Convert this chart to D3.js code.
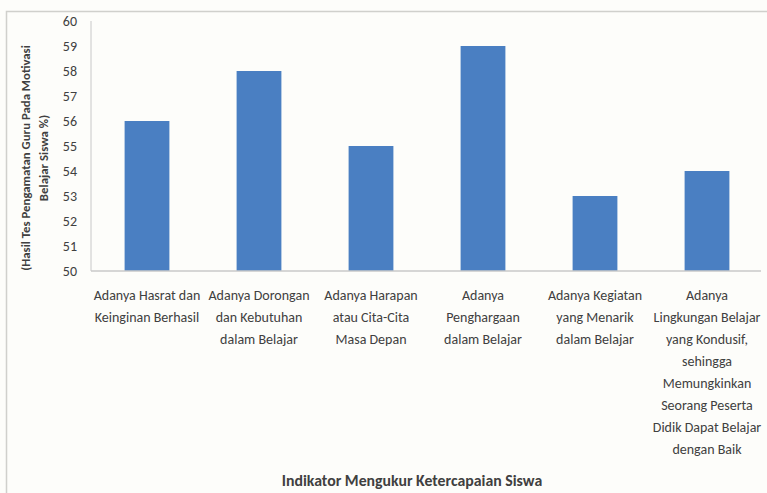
<!DOCTYPE html>
<html>
<head>
<meta charset="utf-8">
<script src="https://cdn.jsdelivr.net/npm/d3@7"></script>
<style>
  body { margin: 0; background: #fdfdfa; }
  svg { display: block; }
  text { font-family: Carlito, Lato, "Liberation Sans", Arial, sans-serif; fill: #404040; }
</style>
</head>
<body>
<div id="chart"></div>
<script>
var width = 767,
    height = 493;

// data
var categories = [
  ["Adanya Hasrat dan", "Keinginan Berhasil"],
  ["Adanya Dorongan", "dan Kebutuhan", "dalam Belajar"],
  ["Adanya Harapan", "atau Cita-Cita", "Masa Depan"],
  ["Adanya", "Penghargaan", "dalam Belajar"],
  ["Adanya Kegiatan", "yang Menarik", "dalam Belajar"],
  ["Adanya", "Lingkungan Belajar", "yang Kondusif,", "sehingga", "Memungkinkan", "Seorang Peserta", "Didik Dapat Belajar", "dengan Baik"]
];
var values = [56, 58, 55, 59, 53, 54];
var yTicks = [50, 51, 52, 53, 54, 55, 56, 57, 58, 59, 60];
var yTitle = ["(Hasil Tes Pengamatan Guru Pada Motivasi", "Belajar Siswa %)"];
var xTitle = "Indikator Mengukur Ketercapaian Siswa";

var margin = { top: 21, left: 91, right: 4, bottom: 222 };

var svg = d3.select("#chart")
  .append("svg")
  .attr("width", width)
  .attr("height", height);

// outer frame
svg.append("rect")
  .attr("x", 6.5).attr("y", 11.5)
  .attr("width", width + 10).attr("height", height + 10)
  .attr("fill", "none")
  .attr("stroke", "#d0d0cc")
  .attr("stroke-width", 1.5);

var x = d3.scaleBand()
  .domain(d3.range(values.length))
  .range([margin.left, width - margin.right])
  .paddingInner(0.6)
  .paddingOuter(0.3);

var y = d3.scaleLinear()
  .domain([50, 60])
  .range([height - margin.bottom, margin.top]);

var g = svg.append("g");

// bars
g.selectAll("rect.bar")
  .data(values)
  .enter()
  .append("rect")
  .attr("class", "bar")
  .attr("x", function(d, i) { return x(i); })
  .attr("y", function(d) { return y(d); })
  .attr("width", x.bandwidth())
  .attr("height", function(d) { return y(50) - y(d); })
  .attr("fill", "#4a7fc2");

// axis lines
g.append("line")
  .attr("x1", margin.left).attr("x2", margin.left)
  .attr("y1", y(60)).attr("y2", y(50))
  .attr("stroke", "#c8c8c8");
g.append("line")
  .attr("x1", margin.left).attr("x2", width - 6)
  .attr("y1", y(50)).attr("y2", y(50))
  .attr("stroke", "#c8c8c8")
  .attr("stroke-width", 1.5);

// y tick labels
g.selectAll("text.ytick")
  .data(yTicks)
  .enter()
  .append("text")
  .attr("class", "ytick")
  .attr("x", 77)
  .attr("y", function(d) { return y(d); })
  .attr("dy", "0.35em")
  .attr("text-anchor", "end")
  .attr("font-size", "14px")
  .attr("fill", "#595959")
  .text(function(d) { return d; });

// x category labels
var labels = g.selectAll("text.xlab")
  .data(categories)
  .enter()
  .append("text")
  .attr("class", "xlab")
  .attr("text-anchor", "middle")
  .attr("font-size", "14px")
  .attr("fill", "#404040");

labels.selectAll("tspan")
  .data(function(d, i) { return d.map(function(t) { return { t: t, i: i }; }); })
  .enter()
  .append("tspan")
  .attr("x", function(d) { return x(d.i) + x.bandwidth() / 2; })
  .attr("y", function(d, j) { return 300 + j * 22; })
  .text(function(d) { return d.t; });

// y axis title
var yt = svg.append("text")
  .attr("transform", "translate(0,158) rotate(-90)")
  .attr("text-anchor", "middle")
  .attr("font-size", "12.8px")
  .attr("font-weight", "bold")
  .attr("fill", "#404040");
yt.selectAll("tspan")
  .data(yTitle)
  .enter()
  .append("tspan")
  .attr("x", 0)
  .attr("y", function(d, i) { return 30 + i * 18; })
  .text(function(d) { return d; });

// x axis title
svg.append("text")
  .attr("x", 412)
  .attr("y", 486)
  .attr("text-anchor", "middle")
  .attr("font-size", "15.8px")
  .attr("font-weight", "bold")
  .attr("fill", "#404040")
  .text(xTitle);
</script>
</body>
</html>
